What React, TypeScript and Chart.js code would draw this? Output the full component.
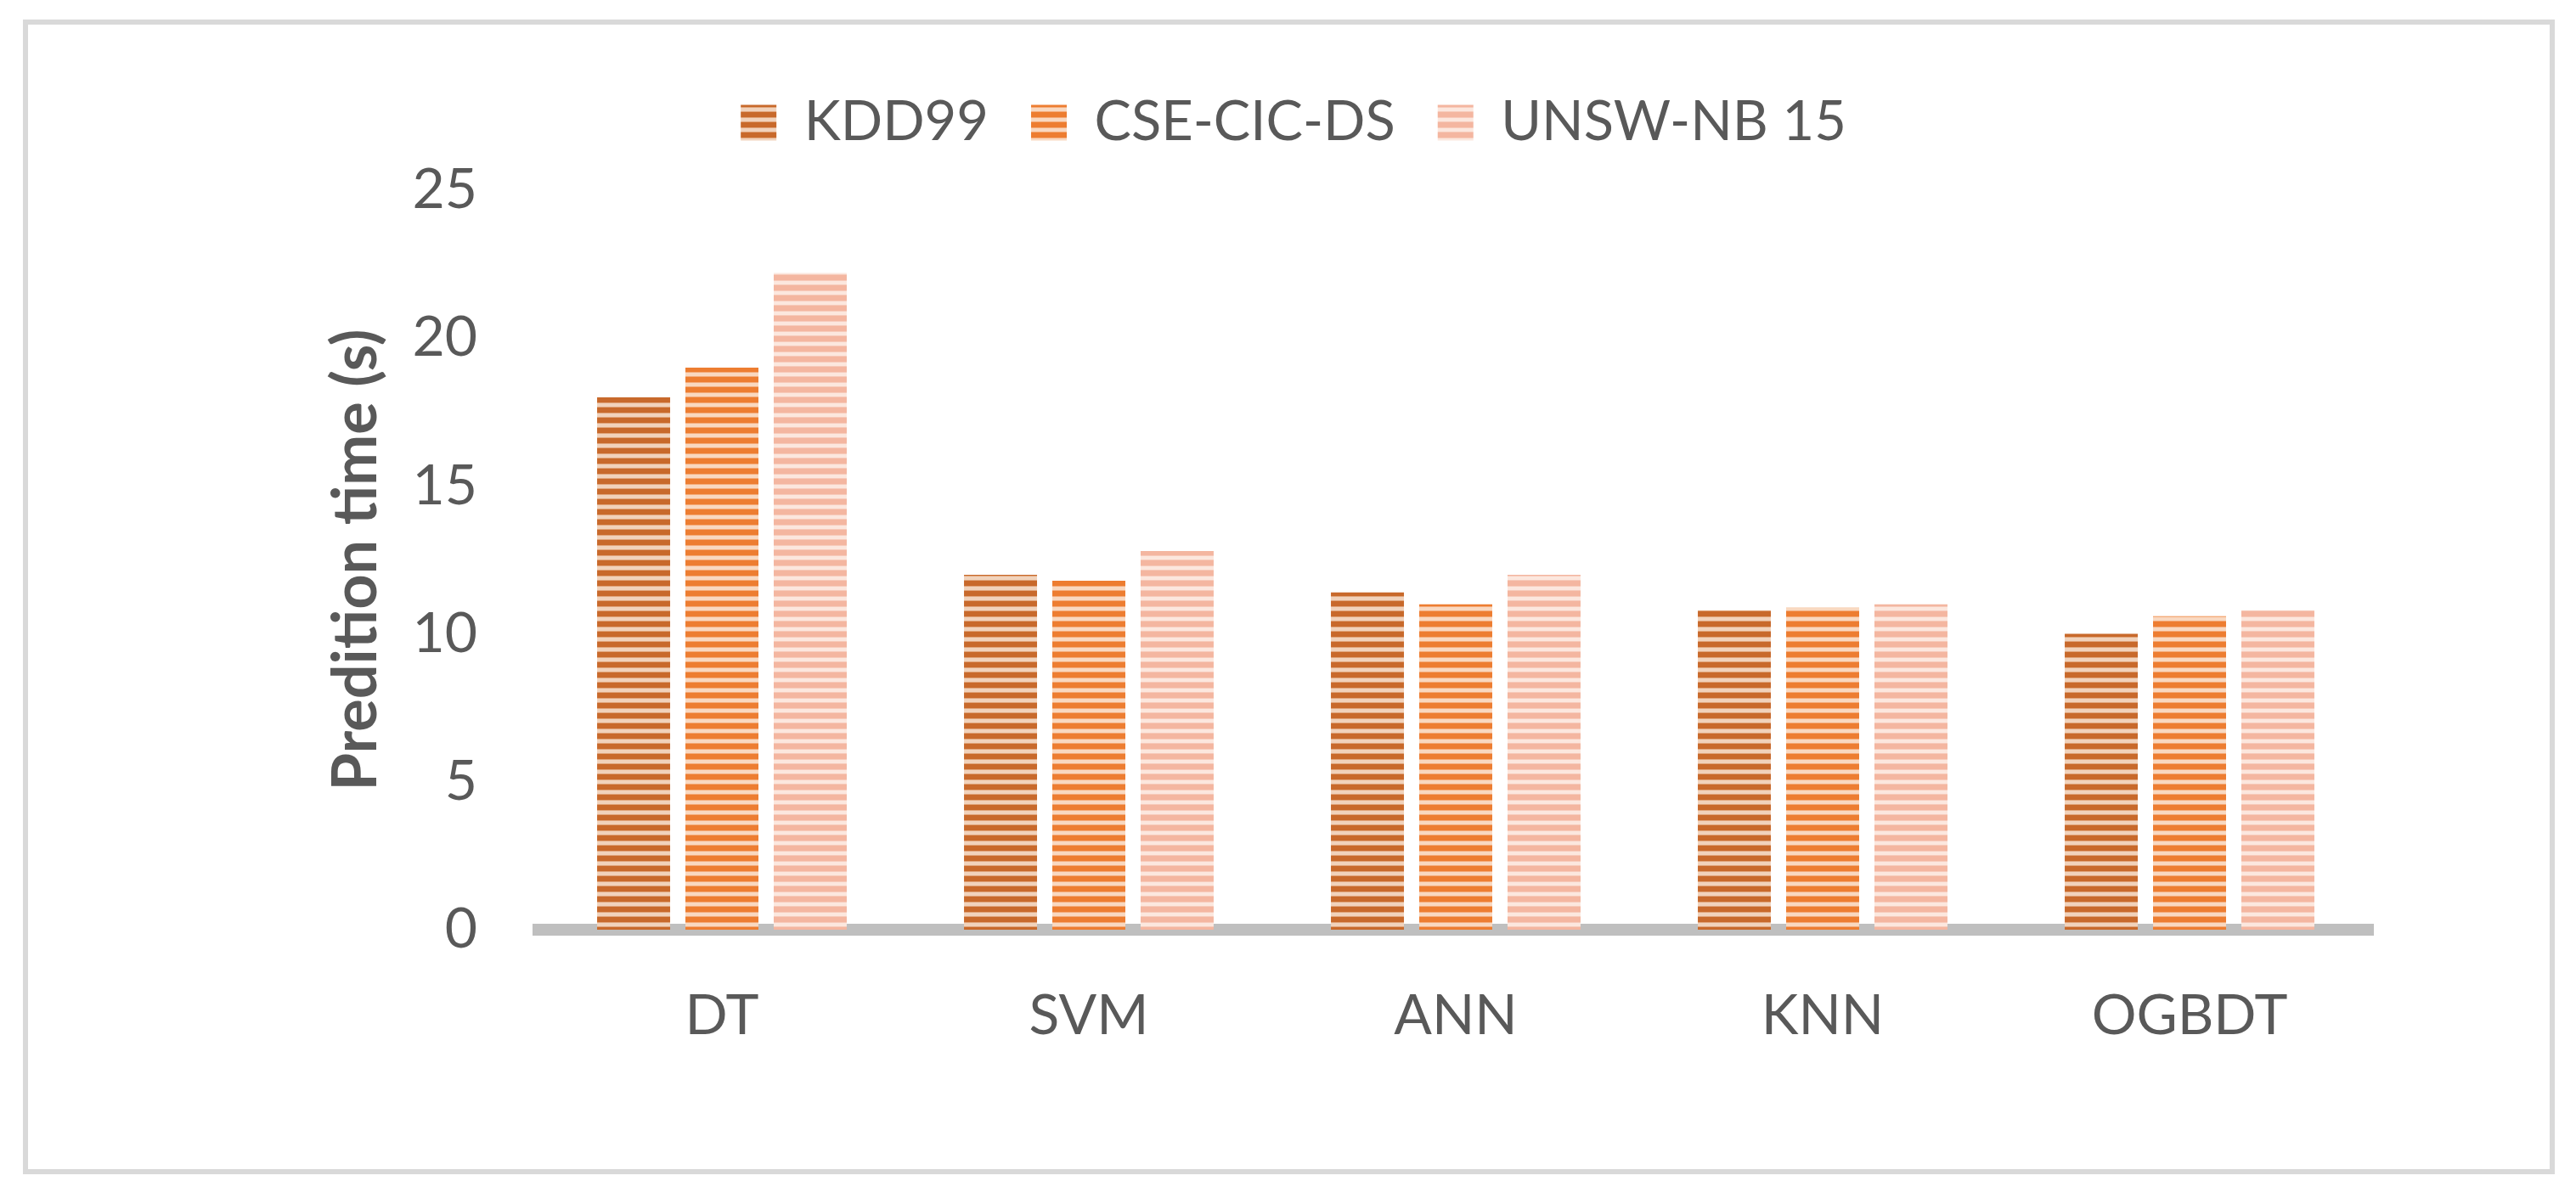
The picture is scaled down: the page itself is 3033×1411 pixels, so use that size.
import { useEffect, useRef } from "react"
import { Chart, registerables } from "chart.js"

// registrar todo lo de Chart.js
Chart.register(...registerables)

const categories = ["DT", "SVM", "ANN", "KNN", "OGBDT"]
const seriesNames = ["KDD99", "CSE-CIC-DS", "UNSW-NB 15"]
const kdd99 = [18, 12, 11.4, 10.8, 10]
const cseCicDs = [19, 11.8, 11, 10.9, 10.6]
const unswNb15 = [22.2, 12.8, 12, 11, 10.8]
const yTicks = [0, 5, 10, 15, 20, 25]

const FONT = "Lato, 'Open Sans', sans-serif"
const TEXT = "#595959"

// rayas horizontales finas, como el relleno de Excel
function stripes(dark: string, mid: string, light: string) {
  const c = document.createElement("canvas")
  c.width = 8
  c.height = 12
  const g = c.getContext("2d")!
  g.fillStyle = light
  g.fillRect(0, 0, 8, 12)
  g.fillStyle = mid
  g.fillRect(0, 6, 8, 1)
  g.fillRect(0, 11, 8, 1)
  g.fillStyle = dark
  g.fillRect(0, 0, 8, 6)
  return g.createPattern(c, "repeat")!
}

// deja la leyenda con una altura fija, para separar el área del gráfico
const legendHeight = {
  id: "legendHeight",
  beforeLayout(chart: any) {
    const lg = chart.legend
    if (!lg || lg._fixed) return
    const fit = lg.fit.bind(lg)
    lg.fit = () => {
      fit()
      lg.height = 162
    }
    lg._fixed = true
  },
}

export default function App() {
  const chartRef = useRef<HTMLCanvasElement>(null)

  useEffect(() => {
    document.body.style.margin = "0"
    if (!chartRef.current) return

    const fills = [
      stripes("#c8692b", "#e0a47a", "#f1d2bb"),
      stripes("#ed7d31", "#f4ab79", "#f9d8c0"),
      stripes("#f4b6a0", "#f7cbbb", "#fce7de"),
    ]
    const values = [kdd99, cseCicDs, unswNb15]

    const chart = new Chart(chartRef.current, {
      type: "bar",
      data: {
        labels: categories,
        datasets: seriesNames.map((name, i) => ({
          label: name,
          data: values[i],
          backgroundColor: fills[i],
          borderWidth: 0,
          categoryPercentage: 0.722,
          barPercentage: 0.827,
        })),
      },
      options: {
        responsive: false,
        animation: false,
        layout: { padding: { left: 252, right: 239, top: 62, bottom: 0 } },
        plugins: {
          legend: {
            position: "top",
            labels: {
              boxWidth: 42,
              boxHeight: 42,
              padding: 50,
              color: TEXT,
              font: { family: FONT, size: 65 },
            },
          },
          tooltip: { enabled: false },
        },
        scales: {
          x: {
            z: 1,
            grid: { display: false, drawTicks: false },
            border: { display: true, color: "#bfbfbf", width: 14 },
            ticks: { color: TEXT, font: { family: FONT, size: 66 }, padding: 62 },
            afterFit: (s: any) => {
              s.height = 316
            },
          },
          y: {
            min: 0,
            max: 25,
            grid: { display: false, drawTicks: false },
            border: { display: false },
            afterBuildTicks: (s: any) => {
              s.ticks = yTicks.map((v) => ({ value: v }))
            },
            ticks: { color: TEXT, font: { family: FONT, size: 66 }, padding: 72 },
            title: {
              display: true,
              text: "Predition time (s)",
              color: TEXT,
              font: { family: FONT, size: 72, weight: "bold" },
              padding: { top: 125, bottom: 0 },
            },
            afterFit: (s: any) => {
              s.width = 382
            },
          },
        },
      },
      plugins: [legendHeight],
    })

    return () => chart.destroy()
  }, [])

  return (
    <div style={{ position: "relative", width: 3033, height: 1411, background: "#fff", overflow: "hidden" }}>
      <canvas
        ref={chartRef}
        width={3033}
        height={1411}
        style={{ position: "absolute", left: 0, top: 0, width: 3033, height: 1411 }}
      />
      <div
        style={{
          position: "absolute",
          left: 27,
          top: 23,
          width: 2981,
          height: 1360,
          border: "6px solid #d9d9d9",
          boxSizing: "border-box",
          pointerEvents: "none",
        }}
      />
    </div>
  )
}
